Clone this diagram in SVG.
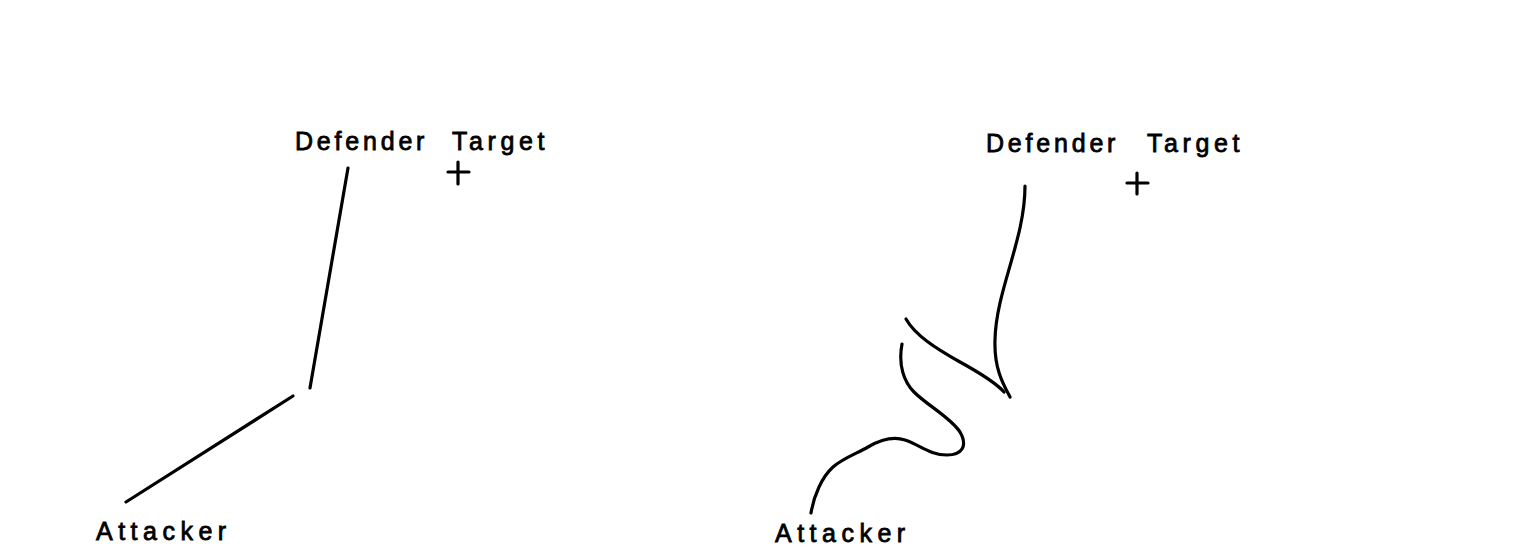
<svg xmlns="http://www.w3.org/2000/svg" width="1536" height="560" viewBox="0 0 1536 560">
<style>
text{font-family:"Liberation Sans",Arial,sans-serif;font-size:25px;fill:#000;stroke:#000;stroke-width:0.8}
.lbl{letter-spacing:3.8px}
.tgt{letter-spacing:4.6px}
.att{letter-spacing:5.5px}
.ln{fill:none;stroke:#000;stroke-width:3.2;stroke-linecap:round;stroke-linejoin:round}
</style>
<rect width="1536" height="560" fill="#fff"/>
<g id="left-defender"><text class="lbl" x="295" y="150">Defender</text></g>
<g id="left-target"><text class="tgt" x="452" y="150">Target</text><path class="ln" d="M448,172H469M458,162V184"/></g>
<g id="left-attacker"><text class="att" x="96" y="540">Attacker</text></g>
<g id="right-defender"><text class="lbl" x="986" y="152">Defender</text></g>
<g id="right-target"><text class="tgt" x="1147" y="152">Target</text><path class="ln" d="M1127,183H1148M1137,173V194"/></g>
<g id="right-attacker"><text class="att" x="775" y="542">Attacker</text></g>
<g id="connectors">
<path class="ln" d="M348,168L310,388"/>
<path class="ln" d="M293,396L126,502"/>
<path class="ln" d="M1025,186C1025,240 996,290 995,340C994,368 1003,384 1010,397"/>
<path class="ln" d="M906,319C915,335 935,348 960,362C980,373 996,383 1004,392"/>
<path class="ln" d="M902,344C898,365 904,382 914,392C928,406 950,417 960,432C968,446 962,455 947,455C930,455 920,445 905,440C893,436 880,440 868,447C858,453 843,458 833,467C822,477 814,495 811,513"/>
</g>
</svg>
